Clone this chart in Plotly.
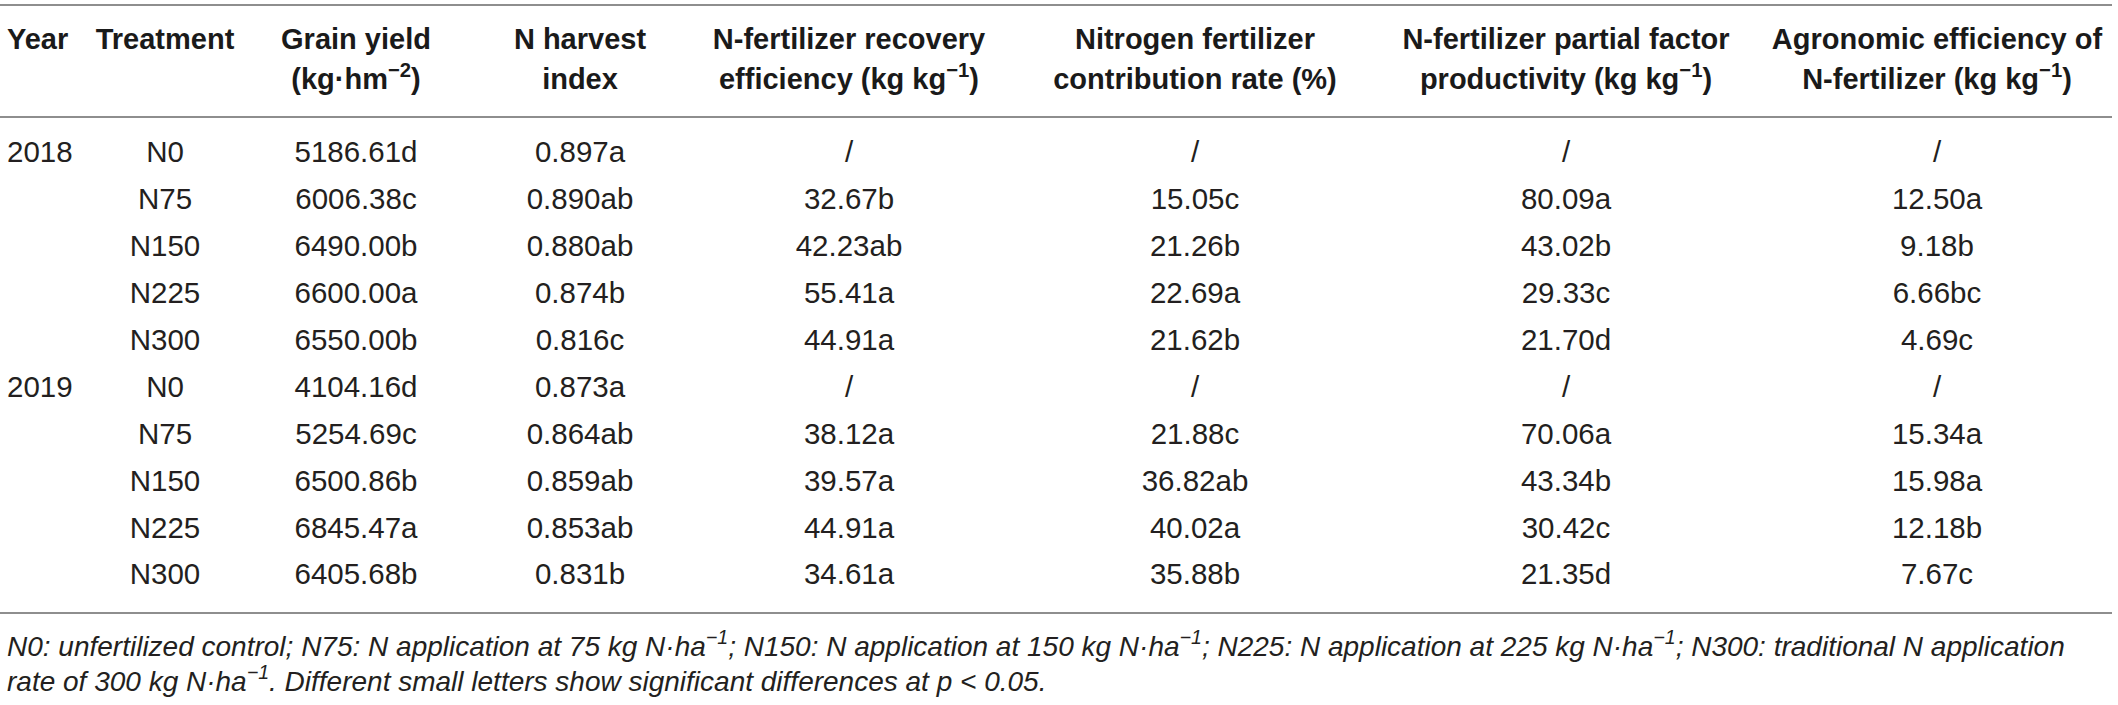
import plotly.graph_objects as go

# ---- data ----
years = ["2018", "", "", "", "", "2019", "", "", "", ""]
treatments = ["N0", "N75", "N150", "N225", "N300", "N0", "N75", "N150", "N225", "N300"]
grain_yield = ["5186.61d", "6006.38c", "6490.00b", "6600.00a", "6550.00b",
               "4104.16d", "5254.69c", "6500.86b", "6845.47a", "6405.68b"]
n_harvest_index = ["0.897a", "0.890ab", "0.880ab", "0.874b", "0.816c",
                   "0.873a", "0.864ab", "0.859ab", "0.853ab", "0.831b"]
recovery_eff = ["/", "32.67b", "42.23ab", "55.41a", "44.91a",
                "/", "38.12a", "39.57a", "44.91a", "34.61a"]
contribution_rate = ["/", "15.05c", "21.26b", "22.69a", "21.62b",
                     "/", "21.88c", "36.82ab", "40.02a", "35.88b"]
partial_factor = ["/", "80.09a", "43.02b", "29.33c", "21.70d",
                  "/", "70.06a", "43.34b", "30.42c", "21.35d"]
agronomic_eff = ["/", "12.50a", "9.18b", "6.66bc", "4.69c",
                 "/", "15.34a", "15.98a", "12.18b", "7.67c"]

header_line1 = ["Year", "Treatment", "Grain yield", "N harvest", "N-fertilizer recovery",
                "Nitrogen fertilizer", "N-fertilizer partial factor", "Agronomic efficiency of"]
header_line2 = ["", "", "(kg·hm<sup>−2</sup>)", "index", "efficiency (kg kg<sup>−1</sup>)",
                "contribution rate (%)", "productivity (kg kg<sup>−1</sup>)", "N-fertilizer (kg kg<sup>−1</sup>)"]

footnote_line1 = ("N0: unfertilized control; N75: N application at 75 kg N·ha<sup>−1</sup>; "
                  "N150: N application at 150 kg N·ha<sup>−1</sup>; N225: N application at 225 kg N·ha<sup>−1</sup>; "
                  "N300: traditional N application")
footnote_line2 = ("rate of 300 kg N·ha<sup>−1</sup>. Different small letters show significant "
                  "differences at p &lt; 0.05.")

columns = [years, treatments, grain_yield, n_harvest_index, recovery_eff,
           contribution_rate, partial_factor, agronomic_eff]

# ---- layout / style ----
W, H = 2118, 705
col_x = [7, 165, 356, 580, 849, 1195, 1566, 1937]
row_y0, row_step = 155, 46.9
head_y1, head_y2 = 42, 82
rule_top, rule_head, rule_bottom = 5, 117, 613
foot_y1, foot_y2 = 644, 679
FONT = "Liberation Sans, Arial, sans-serif"
DATA_SIZE = 29.5
HEAD_SIZE = 29
FOOT_SIZE = 28
RULE_COLOR = "#8e8e8e"

fig = go.Figure()
row_y = [row_y0 + i * row_step for i in range(len(treatments))]

for ci, col in enumerate(columns):
    idx = [i for i, t in enumerate(col) if t]
    fig.add_trace(go.Scatter(
        x=[col_x[ci]] * len(idx), y=[row_y[i] for i in idx], text=[col[i] for i in idx],
        mode="text",
        textposition="middle right" if ci == 0 else "middle center",
        textfont=dict(family=FONT, size=DATA_SIZE, color="#231f20"),
        hoverinfo="skip", showlegend=False))

for hy, labels in [(head_y1, header_line1), (head_y2, header_line2)]:
    idx = [i for i, t in enumerate(labels) if t]
    fig.add_trace(go.Scatter(
        x=[col_x[i] for i in idx], y=[hy] * len(idx),
        text=[f"<b>{labels[i]}</b>" for i in idx], mode="text",
        textposition=["middle right" if i == 0 else "middle center" for i in idx],
        textfont=dict(family=FONT, size=HEAD_SIZE, color="#1a1a1a"),
        hoverinfo="skip", showlegend=False))

for yv, txt in [(foot_y1, footnote_line1), (foot_y2, footnote_line2)]:
    fig.add_annotation(x=5, y=yv, xref="x", yref="y", text=f"<i>{txt}</i>",
                       showarrow=False, xanchor="left", yanchor="middle",
                       font=dict(family=FONT, size=FOOT_SIZE, color="#231f20"))

for yv in (rule_top, rule_head, rule_bottom):
    fig.add_shape(type="line", xref="x", yref="y", x0=0, x1=2112, y0=yv, y1=yv,
                  line=dict(color=RULE_COLOR, width=2))

fig.update_layout(
    width=W, height=H, margin=dict(l=0, r=0, t=0, b=0),
    paper_bgcolor="white", plot_bgcolor="white",
    xaxis=dict(range=[0, W], visible=False, fixedrange=True),
    yaxis=dict(range=[H, 0], visible=False, fixedrange=True),
)

fig.write_html("out.html", config={"displayModeBar": False},
               post_script="document.body.style.margin='0';document.body.style.overflow='hidden';")
